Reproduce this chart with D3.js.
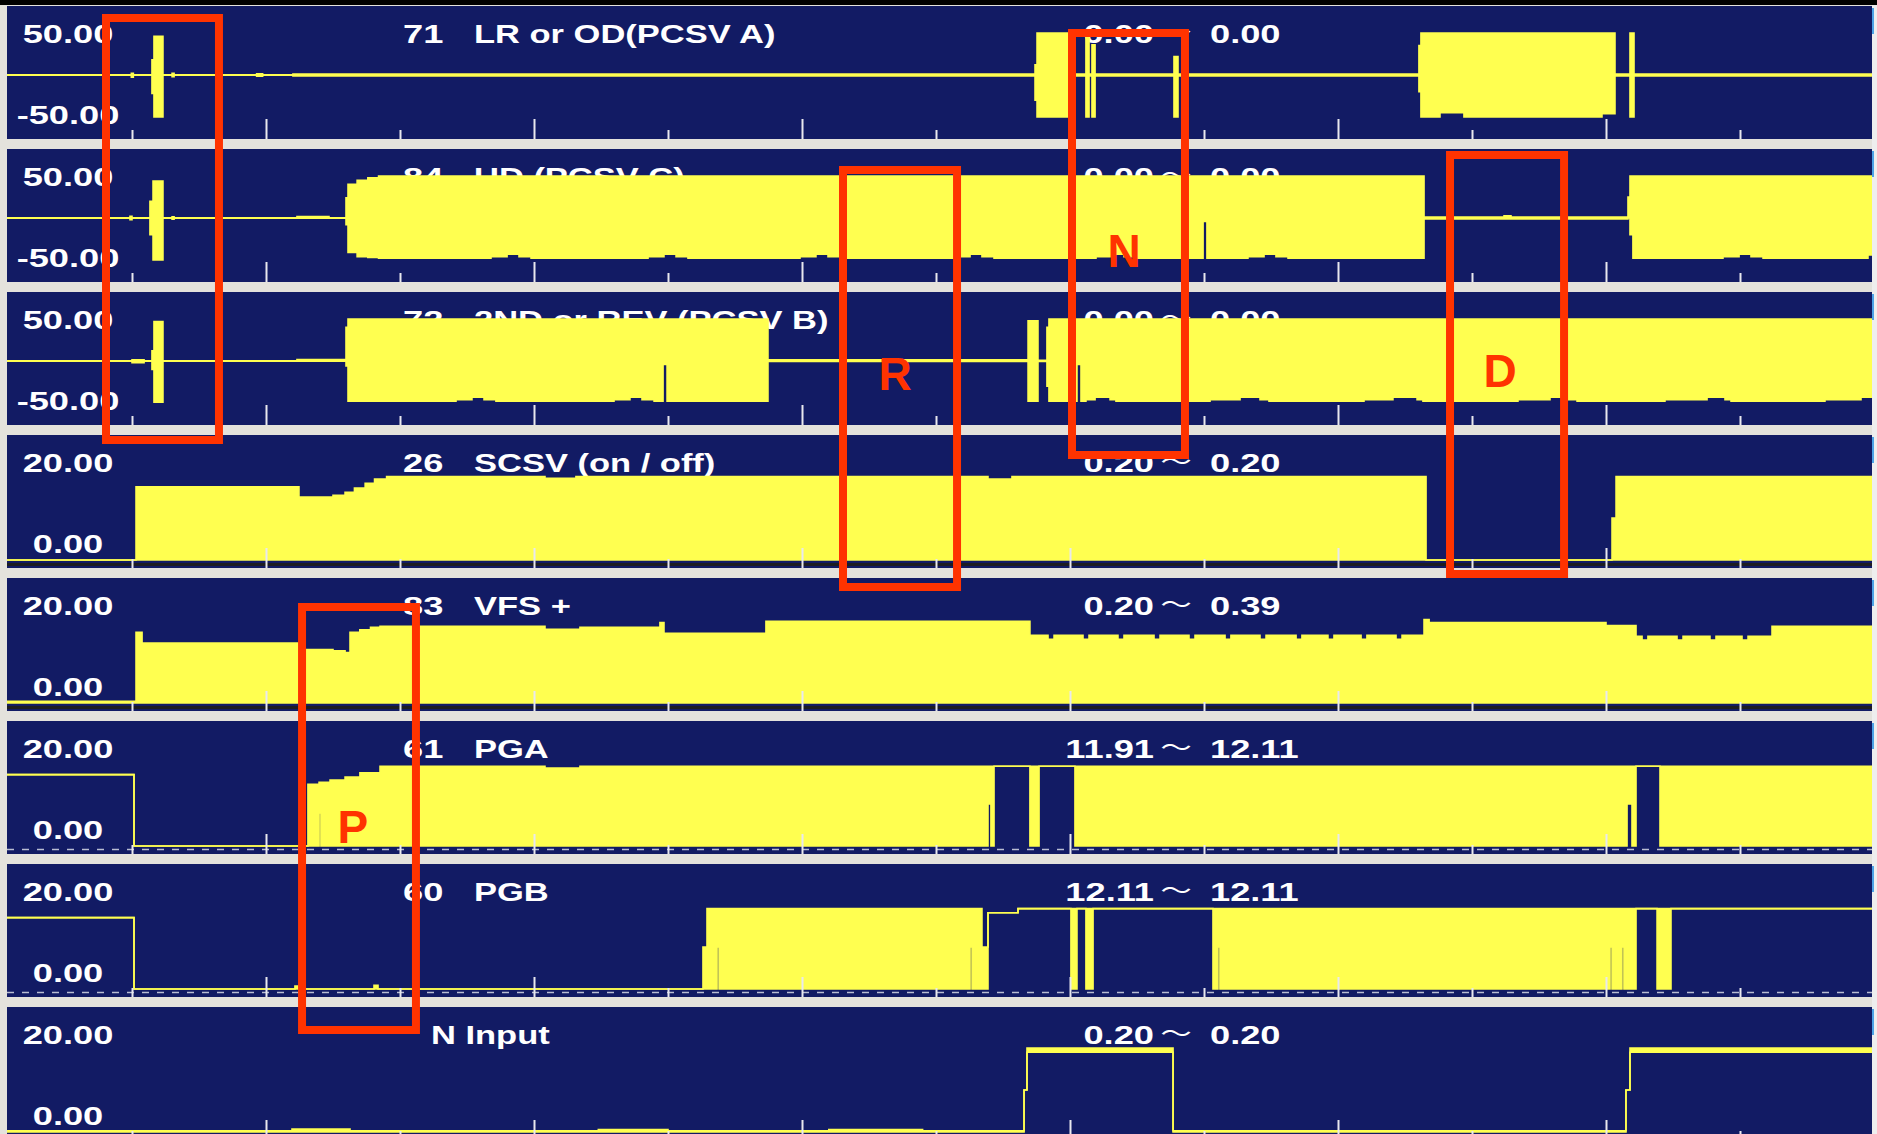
<!DOCTYPE html>
<html>
<head>
<meta charset="utf-8">
<script src="https://cdn.jsdelivr.net/npm/d3@7"></script>
<style>
  html, body { margin: 0; padding: 0; background: #e4e2dc; overflow: hidden; }
  svg { display: block; }
  .txt { font-family: "Liberation Sans", Arial, sans-serif; font-weight: bold; font-size: 25px; fill: #ffffff; }
  .wave { font-family: "Noto Sans CJK JP", "Noto Sans CJK SC", sans-serif; font-weight: normal; font-size: 24px; fill: #ffffff; }
  .mark { font-family: "Liberation Sans", Arial, sans-serif; font-weight: bold; font-size: 46px; fill: #ff3300; }
</style>
</head>
<body>
<svg id="chart" width="1877" height="1134"></svg>
<script>
// ---- channel descriptions -------------------------------------------------
const channelNumbers = ["71", "84", "72", "26", "83", "61", "60", ""];
const channelNames = ["LR or OD(PCSV A)", "UD (PCSV C)", "2ND or REV (PCSV B)",
  "SCSV (on / off)", "VFS +", "PGA", "PGB", "N Input"];
const scaleTopLabels = ["50.00", "50.00", "50.00", "20.00", "20.00", "20.00", "20.00", "20.00"];
const scaleBottomLabels = ["-50.00", "-50.00", "-50.00", "0.00", "0.00", "0.00", "0.00", "0.00"];
const readoutFrom = ["0.00", "0.00", "0.00", "0.20", "0.20", "11.91", "12.11", "0.20"];
const readoutTo = ["0.00", "0.00", "0.00", "0.20", "0.39", "12.11", "12.11", "0.20"];
const bipolarDomain = [-50, 50];
const unipolarDomain = [0, 20];
const timeDomain = [0, 14];
const timeTicks = [1, 2, 3, 4, 5, 6, 7, 8, 9, 10, 11, 12, 13];

// ---- recorded traces: [time, envelope low, envelope high], step-after ----
const lrOd = [
  [0.000, -0.3, 0.3], [0.995, -2.5, 2.0], [1.010, -0.3, 0.3],
  [1.149, -22, 18], [1.164, -50, 46], [1.231, -0.3, 0.3],
  [1.299, -2, 2], [1.314, -0.3, 0.3], [1.930, -1.5, 1.5], [1.975, -0.3, 0.3],
  [2.201, -1, 1],
  [7.739, -30, 12], [7.754, -50, 50], [7.985, -1, 1],
  [8.119, -50, 50], [8.142, -1, 1], [8.164, -50, 36], [8.187, -1, 1],
  [8.776, -50, 22], [8.806, -1, 1],
  [10.604, -20, 35], [10.619, -50, 50], [10.761, -45, 50], [10.940, -50, 50],
  [11.970, -46, 50], [12.067, -1, 1],
  [12.179, -50, 50], [12.209, -1, 1], [14.000, -1, 1]
];

const udC = [
  [0.000, -0.3, 0.3], [0.985, -2, 2], [1.000, -0.3, 0.3],
  [1.134, -20, 20], [1.157, -50, 44], [1.231, -0.3, 0.3],
  [1.299, -1.5, 1.5], [1.314, -0.3, 0.3],
  [2.231, -0.3, 1.8], [2.470, -0.3, 0.3],
  [2.597, -8, 24], [2.612, -41, 40], [2.680, -46, 45], [2.760, -47, 48], [2.840, -48, 50],
  [3.679, -46, 50], [3.799, -43, 50], [3.888, -46, 50], [3.978, -48, 50],
  [4.851, -46, 50], [4.970, -43, 50], [5.060, -46, 50], [5.149, -48, 50],
  [5.985, -46, 50], [6.104, -43, 50], [6.194, -46, 50], [6.284, -48, 50],
  [7.134, -46, 50], [7.254, -43, 50], [7.343, -46, 50], [7.433, -48, 50],
  [8.194, -46, 50], [8.313, -43, 50], [8.403, -46, 50], [8.493, -48, 50],
  [8.993, -4, 50], [9.022, -48, 50],
  [9.328, -46, 50], [9.448, -43, 50], [9.537, -46, 50], [9.627, -48, 50],
  [10.642, -1, 1], [11.239, -1, 2.5], [11.291, -1, 1],
  [12.164, 0, 25], [12.179, -20, 50], [12.201, -48, 50],
  [12.873, -46, 50], [12.993, -43, 50], [13.082, -46, 50], [13.172, -48, 50],
  [13.955, -44, 50], [14.000, -44, 50]
];

const revB = [
  [0.000, -0.3, 0.3], [1.000, -2, 1.5], [1.090, -0.3, 0.3],
  [1.149, -10, 12], [1.164, -49, 47], [1.231, -0.3, 0.3],
  [2.231, -0.3, 1.8],
  [2.597, -6, 40], [2.612, -48, 50],
  [3.418, -46, 50], [3.537, -43, 50], [3.627, -46, 50], [3.716, -48, 50],
  [4.597, -46, 50], [4.716, -43, 50], [4.806, -46, 50], [4.896, -48, 50],
  [4.963, -4, 50], [4.993, -48, 50],
  [5.746, -0.5, 1.5],
  [7.687, -48, 48], [7.761, -0.5, 0.8], [7.828, -30, 40], [7.843, -48, 50],
  [8.052, -4, 50], [8.082, -48, 50],
  [8.119, -46, 50], [8.187, -43, 50], [8.299, -46, 50], [8.343, -48, 50],
  [9.045, -46, 50], [9.269, -43, 50], [9.418, -46, 50], [9.485, -48, 50],
  [10.194, -46, 50], [10.410, -43, 50], [10.590, -46, 50], [10.634, -48, 50],
  [11.343, -46, 50], [11.582, -43, 50], [11.716, -46, 50], [11.784, -48, 50],
  [12.440, -46, 50], [12.754, -43, 50], [12.888, -46, 50], [12.933, -48, 50],
  [13.634, -46, 50], [13.903, -43, 50], [14.000, -43, 50]
];

const scsv = [
  [0.000, 0, 0], [1.030, 0, 12.2], [2.246, 0, 10.5], [2.500, 0, 10.8],
  [2.590, 0, 11.3], [2.660, 0, 12.0], [2.740, 0, 12.8], [2.810, 0, 13.5],
  [2.900, 0, 13.9], [4.082, 0, 13.6], [4.313, 0, 13.9],
  [7.388, 0, 13.5], [7.567, 0, 13.9],
  [10.657, 0, 0], [12.045, 0, 7.0], [12.075, 0, 13.9], [14.000, 0, 13.9]
];

const vfs = [
  [0.000, 0, 0.3], [1.030, 0, 11.8], [1.075, 0, 10.0],
  [2.246, 0, 8.9], [2.500, 0, 8.7], [2.590, 0, 8.4],
  [2.627, 0, 11.8], [2.700, 0, 12.2], [2.780, 0, 12.6], [2.851, 0, 12.8],
  [4.082, 0, 12.3], [4.343, 0, 12.6], [4.940, 0, 13.4], [4.970, 0, 11.6],
  [5.731, 0, 13.6], [7.701, 0, 11.3],
  [7.836, 0, 10.6], [7.881, 0, 11.3], [8.097, 0, 10.6], [8.142, 0, 11.3],
  [8.358, 0, 10.6], [8.403, 0, 11.3], [8.627, 0, 10.6], [8.672, 0, 11.3],
  [8.888, 0, 10.6], [8.933, 0, 11.3], [9.157, 0, 10.6], [9.201, 0, 11.3],
  [9.418, 0, 10.6], [9.463, 0, 11.3], [9.687, 0, 10.6], [9.731, 0, 11.3],
  [9.925, 0, 10.6], [9.970, 0, 11.3], [10.172, 0, 10.6], [10.216, 0, 11.3],
  [10.433, 0, 10.6], [10.478, 0, 11.3],
  [10.642, 0, 13.9], [10.680, 0, 13.4], [12.000, 0, 12.9],
  [12.224, 0, 11.1],
  [12.269, 0, 10.5], [12.313, 0, 11.1], [12.530, 0, 10.5], [12.575, 0, 11.1],
  [12.776, 0, 10.5], [12.821, 0, 11.1], [13.015, 0, 10.5], [13.060, 0, 11.1],
  [13.239, 0, 12.8], [14.000, 0, 12.8]
];

const pga = [
  [0.000, 11.9, 11.9], [1.015, 0, 0],
  [2.313, 0, 10.3], [2.396, 5.5, 10.6], [2.410, 0, 10.6], [2.478, 0, 11.0],
  [2.590, 0, 11.5], [2.701, 0, 12.2], [2.851, 0, 13.3],
  [4.082, 0, 13.0], [4.343, 0, 13.3],
  [7.388, 7.0, 13.3], [7.410, 0, 13.3], [7.433, 13.3, 13.3],
  [7.701, 0, 13.3], [7.769, 13.3, 13.3], [8.037, 0, 13.3],
  [12.157, 7.0, 13.3], [12.194, 0, 13.3], [12.224, 13.3, 13.3],
  [12.403, 0, 13.3], [14.000, 0, 13.3]
];

const pgb = [
  [0.000, 11.9, 11.9], [1.015, 0, 0],
  [2.216, 0, 0.5], [2.246, 0, 0], [2.806, 0, 0.6], [2.836, 0, 0],
  [5.261, 0, 7.0], [5.291, 0, 13.4], [5.366, 7.0, 13.4], [5.381, 0, 13.4],
  [7.254, 7.0, 13.4], [7.269, 0, 13.4], [7.343, 0, 7.0],
  [7.388, 12.7, 12.7], [7.612, 13.4, 13.4],
  [8.007, 0, 13.4], [8.052, 13.4, 13.4], [8.119, 0, 13.4], [8.172, 13.4, 13.4],
  [9.067, 0, 13.4], [9.104, 7.0, 13.4], [9.119, 0, 13.4],
  [12.030, 7.0, 13.4], [12.045, 0, 13.4], [12.119, 7.0, 13.4], [12.134, 0, 13.4],
  [12.224, 13.4, 13.4], [12.381, 0, 13.4], [12.485, 13.4, 13.4], [14.000, 13.4, 13.4]
];

const nInput = [
  [0.000, 0, 0.2], [2.194, 0, 0.5], [2.627, 0, 0.2],
  [4.480, 0, 0.4], [5.000, 0, 0.2], [6.200, 0, 0.4], [6.900, 0, 0.2],
  [7.657, 7.0, 7.0], [7.679, 13.3, 14.0], [8.769, 0, 0.2],
  [12.149, 7.0, 7.0], [12.179, 13.3, 14.0], [14.000, 13.3, 14.0]
];

// ---- marked regions: label, time span ------------------------------------
const markLabels = ["", "R", "N", "D", "P"];
const markSpans = [[0.806, 1.649], [6.306, 7.157], [8.015, 8.858], [10.836, 11.687], [2.269, 3.119]];
const markLabelTimes = [null, 6.694, 8.403, 11.209, 2.649];

// ---- layout ---------------------------------------------------------------
const W = 1877, H = 1134;
const plotLeft = 7, plotRight = 1872;
const panelTop0 = 6, panelPitch = 143, panelHeight = 133;
const navy = "#121b64", yellow = "#ffff50";

const panels = [
  { data: lrOd, kind: "bipolar", base: "none" },
  { data: udC, kind: "bipolar", base: "none" },
  { data: revB, kind: "bipolar", base: "none" },
  { data: scsv, kind: "unipolar", base: "solid" },
  { data: vfs, kind: "unipolar", base: "solid" },
  { data: pga, kind: "unipolar", base: "dashed" },
  { data: pgb, kind: "unipolar", base: "dashed" },
  { data: nInput, kind: "unipolar", base: "none" }
];

const x = d3.scaleLinear().domain(timeDomain).range([-2, 1874]);

const svg = d3.select("#chart");
svg.append("rect").attr("width", W).attr("height", H).attr("fill", "#e4e2dc");
svg.append("rect").attr("width", W).attr("height", 5).attr("fill", "#000");

function putText(g, cls, str, px, py, sx, anchor) {
  return g.append("text")
    .attr("class", cls)
    .attr("transform", `translate(${px},${py}) scale(${sx},1)`)
    .attr("text-anchor", anchor)
    .text(str);
}

panels.forEach((p, i) => {
  const top = panelTop0 + i * panelPitch;
  const clipId = "panel-clip-" + i;
  svg.append("clipPath").attr("id", clipId)
    .append("rect").attr("x", plotLeft).attr("y", 0)
    .attr("width", plotRight - plotLeft).attr("height", panelHeight);

  const g = svg.append("g")
    .attr("transform", `translate(0,${top})`)
    .attr("clip-path", `url(#${clipId})`);

  g.append("rect").attr("x", plotLeft).attr("y", 0)
    .attr("width", plotRight - plotLeft).attr("height", panelHeight)
    .attr("fill", navy);

  const y = p.kind === "bipolar"
    ? d3.scaleLinear().domain(bipolarDomain).range([111, 27])
    : d3.scaleLinear().domain(unipolarDomain).range([125, 5]);

  // scale labels, channel title and cursor readout
  putText(g, "txt", scaleTopLabels[i], 68, 37, 1.45, "middle");
  putText(g, "txt", scaleBottomLabels[i], 68, 118, 1.45, "middle");
  if (channelNumbers[i]) {
    putText(g, "txt", channelNumbers[i], 403, 37, 1.45, "start");
    putText(g, "txt", channelNames[i], 474, 37, 1.38, "start");
  } else {
    putText(g, "txt", channelNames[i], 431, 37, 1.38, "start");
  }
  putText(g, "txt", readoutFrom[i], 1154, 37, 1.45, "end");
  putText(g, "wave", "～", 1176, 35, 1.3, "middle");
  putText(g, "txt", readoutTo[i], 1210, 37, 1.45, "start");

  // baseline decoration along the panel bottom
  if (p.base === "solid") {
    g.append("line").attr("x1", plotLeft).attr("x2", plotRight)
      .attr("y1", 129.5).attr("y2", 129.5)
      .attr("stroke", "#1d1d22").attr("stroke-width", 3);
  } else if (p.base === "dashed") {
    g.append("line").attr("x1", plotLeft).attr("x2", plotRight)
      .attr("y1", 128.5).attr("y2", 128.5)
      .attr("stroke", "#b9bdd2").attr("stroke-width", 1.6)
      .attr("stroke-dasharray", "7 8");
  }

  // trace envelope
  const area = d3.area()
    .x(d => x(d[0])).y0(d => y(d[1])).y1(d => y(d[2]))
    .curve(d3.curveStepAfter);
  const upper = d3.line().x(d => x(d[0])).y(d => y(d[2])).curve(d3.curveStepAfter);
  const lower = d3.line().x(d => x(d[0])).y(d => y(d[1])).curve(d3.curveStepAfter);

  g.append("path").datum(p.data).attr("d", area).attr("fill", yellow);
  g.append("path").datum(p.data).attr("d", upper)
    .attr("fill", "none").attr("stroke", yellow).attr("stroke-width", 1.6);
  g.append("path").datum(p.data).attr("d", lower)
    .attr("fill", "none").attr("stroke", yellow).attr("stroke-width", 1.6);

  // time ticks rising from the panel bottom
  const axis = g.append("g")
    .attr("transform", `translate(0,${panelHeight})`)
    .call(d3.axisTop(x).tickValues(timeTicks).tickSize(9).tickFormat(""));
  axis.select(".domain").remove();
  axis.selectAll(".tick line")
    .attr("stroke", "#e8e8ee").attr("stroke-width", 2)
    .attr("y2", d => (d % 2 === 0 ? -20 : -9));
});

// window border on the right
svg.append("rect").attr("x", plotRight).attr("y", 5).attr("width", W - plotRight).attr("height", H - 5)
  .attr("fill", "#eeeeee");
panels.forEach((p, i) => {
  svg.append("rect").attr("x", plotRight).attr("y", panelTop0 + i * panelPitch + 2)
    .attr("width", 2).attr("height", 26).attr("fill", "#4da3e6");
});

// marked regions
const markBoxY = [[18, 440], [170, 587], [33, 455], [155, 574], [607, 1030]];
const markTextY = [null, 390, 267, 387, 843];
const marks = svg.append("g");
markSpans.forEach((s, k) => {
  marks.append("rect")
    .attr("x", x(s[0])).attr("y", markBoxY[k][0])
    .attr("width", x(s[1]) - x(s[0])).attr("height", markBoxY[k][1] - markBoxY[k][0])
    .attr("fill", "none").attr("stroke", "#ff3300").attr("stroke-width", 8);
  if (markLabels[k]) {
    marks.append("text").attr("class", "mark")
      .attr("x", x(markLabelTimes[k])).attr("y", markTextY[k])
      .attr("text-anchor", "middle").text(markLabels[k]);
  }
});
</script>
</body>
</html>
